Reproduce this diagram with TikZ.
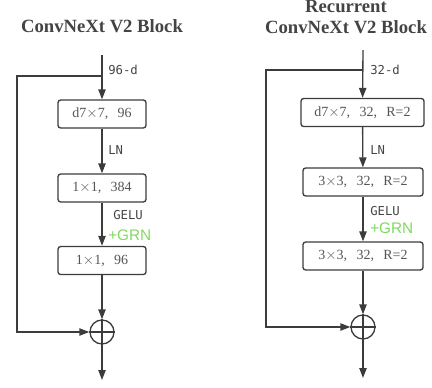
\documentclass[tikz,border=0pt]{standalone}
\usepackage{fontspec}
\setmainfont{Liberation Serif}
\newfontfamily\labelmono{DejaVu Sans Mono}
\newfontfamily\grnsans{Liberation Sans}
\usetikzlibrary{arrows.meta, positioning}
\definecolor{linegray}{HTML}{3C3C3C}
\definecolor{textgray}{HTML}{555555}
\definecolor{grngreen}{HTML}{80D95C}
\tikzset{
	blockbox/.style={draw=linegray, line width=1pt, rounded corners=2pt, minimum height=28*0.75pt, inner sep=0pt, font=\fontsize{10.5}{12}\selectfont, text=textgray}
}
\tikzset{
	flow/.style={draw=linegray, line width=1pt, -{Triangle[length=7.5pt,width=5.5pt]}}
}
\tikzset{
	monotext/.style={font=\labelmono\fontsize{9.2}{10}\selectfont, text=textgray!80!black, anchor=west, inner sep=0pt}
}
\tikzset{
	titletext/.style={font=\bfseries\fontsize{14}{15.5}\selectfont, text=textgray!80!black, align=center}
}
\newcommand{\sep}{,\ \ \,}

\begin{document}
\begin{tikzpicture}[x=0.75pt, y=-0.75pt]
	\useasboundingbox (0,0) rectangle (432,387);
	% left block
	\node[titletext] (titleL) at (102,26) {ConvNeXt V2 Block};
	\coordinate (inL) at (102,55);
	\coordinate (splitL) at (102,76);
	\node[blockbox, minimum width=88*0.75pt] (convL1) at (102,114) {d7$\times$7\sep 96};
	\node[blockbox, minimum width=88*0.75pt] (convL2) at (102,188) {1$\times$1\sep 384};
	\node[blockbox, minimum width=88*0.75pt] (convL3) at (102,260.5) {1$\times$1\sep 96};
	\node[circle, draw=linegray, line width=1pt, minimum size=24*0.75pt, inner sep=0pt] (addL) at (102,332) {};
	\draw[linegray, line width=1pt] (addL.north) -- (addL.south) (addL.west) -- (addL.east);
	\coordinate (outL) at (102,380);
	\draw[flow] (inL) -- (convL1);
	\draw[flow] (convL1) -- (convL2);
	\draw[flow] (convL2) -- (convL3);
	\draw[flow] (convL3) -- (addL);
	\draw[flow] (addL) -- (outL);
	\draw[flow] (splitL) -- ++(-85,0) |- (addL);
	\node[monotext] (dimL) at (108,70) {96-d};
	\node[monotext] (lnL) at (108,150) {LN};
	\node[monotext] (geluL) at (113,215) {GELU};
	\node[font=\grnsans\fontsize{11.5}{13}\selectfont, text=grngreen, anchor=west, inner sep=0pt] (grnL) at (108,235) {+GRN};
	% right block
	\node[titletext] (titleR) at (346,17) {Recurrent\\ConvNeXt V2 Block};
	\coordinate (inR) at (363,50);
	\coordinate (splitR) at (363,70);
	\node[blockbox, minimum width=123*0.75pt] (convR1) at (362.5,112.5) {d7$\times$7\sep 32\sep R=2};
	\node[blockbox, minimum width=120*0.75pt] (convR2) at (363,182) {3$\times$3\sep 32\sep R=2};
	\node[blockbox, minimum width=120*0.75pt] (convR3) at (363,256) {3$\times$3\sep 32\sep R=2};
	\node[circle, draw=linegray, line width=1pt, minimum size=24*0.75pt, inner sep=0pt] (addR) at (363,327) {};
	\draw[linegray, line width=1pt] (addR.north) -- (addR.south) (addR.west) -- (addR.east);
	\coordinate (outR) at (363,378);
	\draw[flow] (inR) -- (convR1);
	\draw[flow] (convR1) -- (convR2);
	\draw[flow] (convR2) -- (convR3);
	\draw[flow] (convR3) -- (addR);
	\draw[flow] (addR) -- (outR);
	\draw[flow] (splitR) -- ++(-97,0) |- (addR);
	\node[monotext] (dimR) at (370,70) {32-d};
	\node[monotext] (lnR) at (370,150) {LN};
	\node[monotext] (geluR) at (370,211) {GELU};
	\node[font=\grnsans\fontsize{11.5}{13}\selectfont, text=grngreen, anchor=west, inner sep=0pt] (grnR) at (370,228) {+GRN};
\end{tikzpicture}
\end{document}
